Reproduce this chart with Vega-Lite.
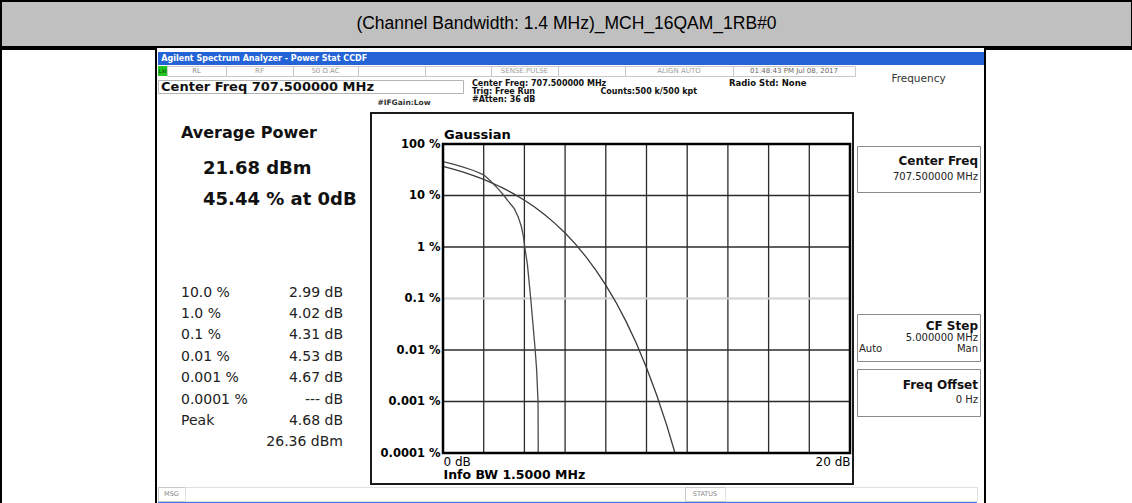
{
"$schema": "https://vega.github.io/schema/vega-lite/v6.json",
"padding": 0,
"background": "white",
"spacing": 0,
"config": {
  "view": {"stroke": null},
  "concat": {"spacing": 0},
  "axis": {"grid": false, "domain": false, "ticks": false, "labelFont": "DejaVu Sans", "titleFont": "DejaVu Sans"},
  "text": {"font": "DejaVu Sans"},
  "title": {"font": "DejaVu Sans"}
},
"datasets": {
  "ccdf": [
    {"series": "Gaussian", "db": 0, "pct": 36.79},
    {"series": "Gaussian", "db": 0.5, "pct": 32.56},
    {"series": "Gaussian", "db": 1, "pct": 28.4},
    {"series": "Gaussian", "db": 1.5, "pct": 24.35},
    {"series": "Gaussian", "db": 2, "pct": 20.49},
    {"series": "Gaussian", "db": 2.5, "pct": 16.89},
    {"series": "Gaussian", "db": 3, "pct": 13.6},
    {"series": "Gaussian", "db": 3.5, "pct": 10.66},
    {"series": "Gaussian", "db": 4, "pct": 8.114},
    {"series": "Gaussian", "db": 4.5, "pct": 5.971},
    {"series": "Gaussian", "db": 5, "pct": 4.232},
    {"series": "Gaussian", "db": 5.5, "pct": 2.877},
    {"series": "Gaussian", "db": 6, "pct": 1.867},
    {"series": "Gaussian", "db": 6.5, "pct": 1.148},
    {"series": "Gaussian", "db": 7, "pct": 0.6652},
    {"series": "Gaussian", "db": 7.5, "pct": 0.3608},
    {"series": "Gaussian", "db": 8, "pct": 0.1819},
    {"series": "Gaussian", "db": 8.5, "pct": 0.0843},
    {"series": "Gaussian", "db": 9, "pct": 0.0355},
    {"series": "Gaussian", "db": 9.5, "pct": 0.01347},
    {"series": "Gaussian", "db": 10, "pct": 0.00454},
    {"series": "Gaussian", "db": 10.5, "pct": 0.001337},
    {"series": "Gaussian", "db": 11, "pct": 0.00034},
    {"series": "Gaussian", "db": 11.4, "pct": 0.0001},
    {"series": "Measured", "db": 0, "pct": 45.44},
    {"series": "Measured", "db": 0.5, "pct": 40.6},
    {"series": "Measured", "db": 1, "pct": 35.6},
    {"series": "Measured", "db": 1.5, "pct": 30.6},
    {"series": "Measured", "db": 2, "pct": 25.2},
    {"series": "Measured", "db": 2.3, "pct": 19.8},
    {"series": "Measured", "db": 2.6, "pct": 15.0},
    {"series": "Measured", "db": 2.8, "pct": 12.3},
    {"series": "Measured", "db": 2.99, "pct": 10.0},
    {"series": "Measured", "db": 3.2, "pct": 7.8},
    {"series": "Measured", "db": 3.5, "pct": 5.6},
    {"series": "Measured", "db": 3.7, "pct": 3.8},
    {"series": "Measured", "db": 3.85, "pct": 2.5},
    {"series": "Measured", "db": 3.95, "pct": 1.6},
    {"series": "Measured", "db": 4.02, "pct": 1.0},
    {"series": "Measured", "db": 4.15, "pct": 0.45},
    {"series": "Measured", "db": 4.31, "pct": 0.1},
    {"series": "Measured", "db": 4.42, "pct": 0.032},
    {"series": "Measured", "db": 4.53, "pct": 0.01},
    {"series": "Measured", "db": 4.6, "pct": 0.0042},
    {"series": "Measured", "db": 4.67, "pct": 0.001},
    {"series": "Measured", "db": 4.68, "pct": 0.0001},
    {"series": "Measured", "db": 20, "pct": 0.0001}
  ],
  "gridX": [{"db": 2}, {"db": 4}, {"db": 6}, {"db": 8}, {"db": 10}, {"db": 12}, {"db": 14}, {"db": 16}, {"db": 18}],
  "gridY": [{"pct": 10}, {"pct": 1}, {"pct": 0.01}, {"pct": 0.001}],
  "gridYLight": [{"pct": 0.1}],
  "stats": [
    {"level": "10.0 %", "power": "2.99 dB"},
    {"level": "1.0 %", "power": "4.02 dB"},
    {"level": "0.1 %", "power": "4.31 dB"},
    {"level": "0.01 %", "power": "4.53 dB"},
    {"level": "0.001 %", "power": "4.67 dB"},
    {"level": "0.0001 %", "power": "--- dB"},
    {"level": "Peak", "power": "4.68 dB"},
    {"level": "", "power": "26.36 dBm"}
  ]
},
"vconcat": [
  {
    "width": 1131, "height": 46,
    "view": {"fill": "#c0c0c0", "stroke": "#000000", "strokeWidth": 2},
    "data": {"values": [{"caption": "(Channel Bandwidth: 1.4 MHz)_MCH_16QAM_1RB#0"}]},
    "mark": {"type": "text", "font": "Liberation Sans Narrow, Liberation Sans, sans-serif", "fontSize": 17.5, "color": "#000000"},
    "encoding": {"text": {"field": "caption"}}
  },
  {
    "spacing": 0,
    "hconcat": [
      {"width": 155, "height": 455, "view": {"stroke": "#000000", "strokeWidth": 2}, "data": {"values": []}, "mark": "text"},
      {
        "spacing": 0,
        "vconcat": [
          {"width": 826, "height": 3, "data": {"values": []}, "mark": "text"},
          {
            "width": 826, "height": 13, "view": {"fill": "#2463d6"},
            "data": {"values": [{"t": "Agilent Spectrum Analyzer - Power Stat CCDF"}]},
            "mark": {"type": "text", "align": "left", "color": "white", "fontWeight": "bold", "fontSize": 8},
            "encoding": {"text": {"field": "t"}, "x": {"datum": "s", "type": "nominal", "scale": {"type": "point", "padding": 0, "align": 0.004}, "axis": null}}
          },
          {
            "spacing": 0,
            "hconcat": [
              {
                "spacing": 0,
                "vconcat": [
                  {
                    "spacing": 0, "bounds": "flush",
                    "hconcat": [
                      {"width": 9, "height": 10, "view": {"fill": "#22c422"}, "data": {"values": [{"t": "LXI"}]}, "mark": {"type": "text", "fontSize": 5, "color": "#003300"}, "encoding": {"text": {"field": "t"}}},
                      {"width": 59, "height": 10, "view": {"stroke": "#c8c8c8"}, "data": {"values": [{"t": "RL"}]}, "mark": {"type": "text", "fontSize": 7, "color": "#8a8a8a"}, "encoding": {"text": {"field": "t"}}},
                      {"width": 67, "height": 10, "view": {"stroke": "#c8c8c8"}, "data": {"values": [{"t": "RF"}]}, "mark": {"type": "text", "fontSize": 7, "color": "#9a9a9a"}, "encoding": {"text": {"field": "t"}}},
                      {"width": 65, "height": 10, "view": {"stroke": "#c8c8c8"}, "data": {"values": [{"t": "50 Ω      AC"}]}, "mark": {"type": "text", "fontSize": 7, "color": "#9a9a9a"}, "encoding": {"text": {"field": "t"}}},
                      {"width": 67, "height": 10, "view": {"stroke": "#c8c8c8"}, "data": {"values": []}, "mark": "text"},
                      {"width": 66, "height": 10, "view": {"stroke": "#c8c8c8"}, "data": {"values": []}, "mark": "text"},
                      {"width": 67, "height": 10, "view": {"stroke": "#c8c8c8"}, "data": {"values": [{"t": "SENSE:PULSE"}]}, "mark": {"type": "text", "fontSize": 7, "color": "#a0a0a0"}, "encoding": {"text": {"field": "t"}}},
                      {"width": 67, "height": 10, "view": {"stroke": "#c8c8c8"}, "data": {"values": []}, "mark": "text"},
                      {"width": 108, "height": 10, "view": {"stroke": "#c8c8c8"}, "data": {"values": [{"t": "ALIGN AUTO"}]}, "mark": {"type": "text", "fontSize": 7, "color": "#a0a0a0"}, "encoding": {"text": {"field": "t"}}},
                      {"width": 122, "height": 10, "view": {"stroke": "#c8c8c8"}, "data": {"values": [{"t": "01:48:43 PM Jul 08, 2017"}]}, "mark": {"type": "text", "fontSize": 7, "color": "#666666"}, "encoding": {"text": {"field": "t"}}}
                    ]
                  },
                  {
                    "spacing": 0,
                    "hconcat": [
                      {
                        "spacing": 0,
                        "vconcat": [
                          {"width": 305, "height": 2, "data": {"values": []}, "mark": "text"},
                          {
                            "width": 305, "height": 13, "view": {"stroke": "#b5b5b5"},
                            "data": {"values": [{"t": "Center Freq 707.500000 MHz"}]},
                            "mark": {"type": "text", "align": "left", "fontSize": 13, "fontWeight": "bold", "color": "#111111"},
                            "encoding": {"text": {"field": "t"}, "x": {"datum": "s", "type": "nominal", "scale": {"type": "point", "padding": 0, "align": 0.01}, "axis": null}}
                          },
                          {
                            "spacing": 0, "bounds": "flush",
                            "hconcat": [
                              {"width": 213, "height": 18, "data": {"values": []}, "mark": "text"},
                              {"width": 66, "height": 18, "data": {"values": [{"t": "#IFGain:Low"}]}, "mark": {"type": "text", "fontSize": 7.5, "fontWeight": "bold", "color": "#333333"}, "encoding": {"text": {"field": "t"}}},
                              {"width": 26, "height": 18, "data": {"values": []}, "mark": "text"}
                            ]
                          }
                        ]
                      },
                      {"width": 8, "height": 33, "data": {"values": []}, "mark": "text"},
                      {
                        "spacing": 0, "bounds": "flush",
                        "vconcat": [
                          {"width": 257, "height": 3, "data": {"values": []}, "mark": "text"},
                          {
                            "width": 257, "height": 24,
                            "data": {"values": [
                              {"line": "1", "col": "a", "t": "Center Freq: 707.500000 MHz"},
                              {"line": "2", "col": "a", "t": "Trig: Free Run"},
                              {"line": "2", "col": "b", "t": "Counts:500 k/500 kpt"},
                              {"line": "3", "col": "a", "t": "#Atten: 36 dB"}
                            ]},
                            "mark": {"type": "text", "align": "left", "fontSize": 8, "fontWeight": "bold", "color": "#111111"},
                            "encoding": {
                              "text": {"field": "t"},
                              "x": {"field": "col", "type": "nominal", "scale": {"type": "point", "domain": ["a", "b", "c"], "padding": 0}, "axis": null},
                              "y": {"field": "line", "type": "nominal", "scale": {"type": "point", "domain": ["1", "2", "3"]}, "axis": null}
                            }
                          },
                          {"width": 257, "height": 6, "data": {"values": []}, "mark": "text"}
                        ]
                      },
                      {
                        "spacing": 0, "bounds": "flush",
                        "vconcat": [
                          {"width": 127, "height": 1, "data": {"values": []}, "mark": "text"},
                          {
                            "width": 127, "height": 10,
                            "data": {"values": [{"t": "Radio Std: None"}]},
                            "mark": {"type": "text", "align": "left", "fontSize": 8.5, "fontWeight": "bold", "color": "#111111"},
                            "encoding": {"text": {"field": "t"}, "x": {"datum": "s", "type": "nominal", "scale": {"type": "point", "padding": 0, "align": 0}, "axis": null}}
                          },
                          {"width": 127, "height": 22, "data": {"values": []}, "mark": "text"}
                        ]
                      }
                    ]
                  },
                  {
                    "spacing": 0,
                    "hconcat": [
                      {"width": 3, "height": 371, "data": {"values": []}, "mark": "text"},
                      {
                        "spacing": 0,
                        "vconcat": [
                          {
                            "spacing": 0, "bounds": "flush",
                            "hconcat": [
                              {"width": 20, "height": 40, "data": {"values": []}, "mark": "text"},
                              {
                                "width": 187, "height": 40,
                                "data": {"values": [{"t": "Average Power"}]},
                                "mark": {"type": "text", "align": "left", "fontSize": 16, "fontWeight": "bold", "color": "#111111"},
                                "encoding": {"text": {"field": "t"}, "x": {"datum": "s", "type": "nominal", "scale": {"type": "point", "padding": 0, "align": 0}, "axis": null}}
                              }
                            ]
                          },
                          {
                            "spacing": 0, "bounds": "flush",
                            "hconcat": [
                              {"width": 42, "height": 62, "data": {"values": []}, "mark": "text"},
                              {
                                "width": 165, "height": 62,
                                "data": {"values": [{"t": "21.68 dBm"}, {"t": "45.44 % at 0dB"}]},
                                "mark": {"type": "text", "align": "left", "fontSize": 18, "fontWeight": "bold", "color": "#111111"},
                                "encoding": {
                                  "text": {"field": "t"},
                                  "x": {"datum": "s", "type": "nominal", "scale": {"type": "point", "padding": 0, "align": 0}, "axis": null},
                                  "y": {"field": "t", "type": "nominal", "sort": null, "axis": null}
                                }
                              }
                            ]
                          },
                          {"width": 207, "height": 67, "data": {"values": []}, "mark": "text"},
                          {
                            "spacing": 0, "bounds": "flush",
                            "hconcat": [
                              {"width": 20, "height": 171, "data": {"values": []}, "mark": "text"},
                              {
                                "width": 80, "height": 171,
                                "data": {"name": "stats"},
                                "mark": {"type": "text", "align": "left", "fontSize": 14, "color": "#222222"},
                                "encoding": {
                                  "text": {"field": "level"},
                                  "x": {"datum": "s", "type": "nominal", "scale": {"type": "point", "padding": 0, "align": 0}, "axis": null},
                                  "y": {"field": "level", "type": "nominal", "sort": null, "axis": null}
                                }
                              },
                              {
                                "width": 82, "height": 171,
                                "data": {"name": "stats"},
                                "mark": {"type": "text", "align": "right", "fontSize": 14, "color": "#222222"},
                                "encoding": {
                                  "text": {"field": "power"},
                                  "x": {"datum": "e", "type": "nominal", "scale": {"type": "point", "padding": 0, "align": 1}, "axis": null},
                                  "y": {"field": "level", "type": "nominal", "sort": null, "axis": null}
                                }
                              },
                              {"width": 25, "height": 171, "data": {"values": []}, "mark": "text"}
                            ]
                          },
                          {"width": 207, "height": 31, "data": {"values": []}, "mark": "text"}
                        ]
                      },
                      {"width": 2, "height": 371, "data": {"values": []}, "mark": "text"},
                      {
                        "width": 482, "height": 371,
                        "view": {"stroke": "#1a1a1a", "strokeWidth": 2, "fill": "white"},
                        "title": {"text": "Gaussian", "anchor": "start", "frame": "group", "orient": "top", "offset": -42, "dx": 73, "baseline": "bottom", "fontSize": 13, "fontWeight": "bold", "color": "#000000"},
                        "layer": [
                          {
                            "data": {"name": "gridX"},
                            "mark": {"type": "rule", "color": "#2b2b2b", "strokeWidth": 1.3},
                            "encoding": {"x": {"field": "db", "type": "quantitative"}, "y": {"datum": 0.0001}, "y2": {"datum": 100}}
                          },
                          {
                            "data": {"name": "gridY"},
                            "mark": {"type": "rule", "color": "#2b2b2b", "strokeWidth": 1.3},
                            "encoding": {"y": {"field": "pct", "type": "quantitative"}, "x": {"datum": 0}, "x2": {"datum": 20}}
                          },
                          {
                            "data": {"name": "gridYLight"},
                            "mark": {"type": "rule", "color": "#d2d2d2", "strokeWidth": 2},
                            "encoding": {"y": {"field": "pct", "type": "quantitative"}, "x": {"datum": 0}, "x2": {"datum": 20}}
                          },
                          {
                            "data": {"name": "ccdf"},
                            "mark": {"type": "line", "strokeWidth": 1.3},
                            "encoding": {
                              "x": {
                                "field": "db", "type": "quantitative",
                                "scale": {"domain": [0, 20], "range": [72, 479], "nice": false, "zero": false},
                                "axis": {"orient": "bottom", "offset": -31, "values": [0, 20], "labelExpr": "datum.value + ' dB'", "labelFlush": true, "labelFontSize": 12, "labelColor": "#000000", "labelPadding": 3, "title": "Info BW 1.5000 MHz", "titleAnchor": "start", "titleFontSize": 12.5, "titleFontWeight": "bold", "titlePadding": 1, "titleColor": "#000000"}
                              },
                              "y": {
                                "field": "pct", "type": "quantitative",
                                "scale": {"type": "log", "domain": [0.0001, 100], "range": [340, 31], "nice": false},
                                "axis": {"orient": "left", "offset": -72, "values": [100, 10, 1, 0.1, 0.01, 0.001, 0.0001], "labelExpr": "format(datum.value, '~g') + ' %'", "labelFontWeight": "bold", "labelFontSize": 11.5, "labelPadding": 3, "labelOverlap": false, "labelColor": "#000000", "title": null}
                              },
                              "color": {"field": "series", "type": "nominal", "scale": {"domain": ["Gaussian", "Measured"], "range": ["#3a3a3a", "#4a4a4a"]}, "legend": null}
                            }
                          },
                          {
                            "data": {"values": [{"frame": "plot"}]},
                            "mark": {"type": "rect", "fill": "transparent", "stroke": "#000000", "strokeWidth": 2.5},
                            "encoding": {"x": {"datum": 0}, "x2": {"datum": 20}, "y": {"datum": 0.0001}, "y2": {"datum": 100}}
                          }
                        ]
                      },
                      {"width": 2, "height": 371, "data": {"values": []}, "mark": "text"}
                    ]
                  },
                  {"width": 696, "height": 1, "data": {"values": []}, "mark": "text"}
                ]
              },
              {
                "spacing": 0, "bounds": "flush",
                "vconcat": [
                  {"width": 123, "height": 3, "data": {"values": []}, "mark": "text"},
                  {"width": 123, "height": 20, "data": {"values": [{"t": "Frequency"}]}, "mark": {"type": "text", "fontSize": 10.5, "color": "#333333"}, "encoding": {"text": {"field": "t"}}},
                  {"width": 123, "height": 57, "data": {"values": []}, "mark": "text"},
                  {
                    "width": 123, "height": 46,
                    "view": {"stroke": "#8a8a8a", "fill": "white"},
                    "data": {"values": [{"line": "a", "side": "R", "t": "Center Freq"}, {"line": "b", "side": "R", "t": "707.500000 MHz"}]},
                    "encoding": {
                      "text": {"field": "t"},
                      "x": {"field": "side", "type": "nominal", "scale": {"type": "point", "domain": ["L", "R"], "padding": 0.017}, "axis": null},
                      "y": {"field": "line", "type": "nominal", "scale": {"type": "point", "domain": ["a", "b"], "padding": 1.05}, "axis": null}
                    },
                    "layer": [
                      {"transform": [{"filter": "datum.line == 'a'"}], "mark": {"type": "text", "align": "right", "fontSize": 12, "fontWeight": "bold", "color": "#111111"}},
                      {"transform": [{"filter": "datum.line == 'b'"}], "mark": {"type": "text", "align": "right", "fontSize": 10, "color": "#222222"}}
                    ]
                  },
                  {"width": 123, "height": 122, "data": {"values": []}, "mark": "text"},
                  {
                    "width": 123, "height": 47,
                    "view": {"stroke": "#8a8a8a", "fill": "white"},
                    "data": {"values": [{"line": "a", "side": "R", "t": "CF Step"}, {"line": "b", "side": "R", "t": "5.000000 MHz"}, {"line": "c", "side": "L", "t": "Auto"}, {"line": "c", "side": "R", "t": "Man"}]},
                    "encoding": {
                      "text": {"field": "t"},
                      "x": {"field": "side", "type": "nominal", "scale": {"type": "point", "domain": ["L", "R"], "padding": 0.017}, "axis": null},
                      "y": {"field": "line", "type": "nominal", "scale": {"type": "point", "domain": ["a", "b", "c"], "padding": 1.04}, "axis": null}
                    },
                    "layer": [
                      {"transform": [{"filter": "datum.line == 'a'"}], "mark": {"type": "text", "align": "right", "fontSize": 12, "fontWeight": "bold", "color": "#111111"}},
                      {"transform": [{"filter": "datum.line != 'a' && datum.side == 'R'"}], "mark": {"type": "text", "align": "right", "fontSize": 10, "color": "#222222"}},
                      {"transform": [{"filter": "datum.side == 'L'"}], "mark": {"type": "text", "align": "left", "fontSize": 10, "color": "#222222"}}
                    ]
                  },
                  {"width": 123, "height": 8, "data": {"values": []}, "mark": "text"},
                  {
                    "width": 123, "height": 47,
                    "view": {"stroke": "#8a8a8a", "fill": "white"},
                    "data": {"values": [{"line": "a", "side": "R", "t": "Freq Offset"}, {"line": "b", "side": "R", "t": "0 Hz"}]},
                    "encoding": {
                      "text": {"field": "t"},
                      "x": {"field": "side", "type": "nominal", "scale": {"type": "point", "domain": ["L", "R"], "padding": 0.017}, "axis": null},
                      "y": {"field": "line", "type": "nominal", "scale": {"type": "point", "domain": ["a", "b"], "padding": 1.13}, "axis": null}
                    },
                    "layer": [
                      {"transform": [{"filter": "datum.line == 'a'"}], "mark": {"type": "text", "align": "right", "fontSize": 12, "fontWeight": "bold", "color": "#111111"}},
                      {"transform": [{"filter": "datum.line == 'b'"}], "mark": {"type": "text", "align": "right", "fontSize": 10, "color": "#222222"}}
                    ]
                  },
                  {"width": 123, "height": 66, "data": {"values": []}, "mark": "text"}
                ]
              }
            ]
          },
          {
            "spacing": 0, "bounds": "flush",
            "hconcat": [
              {"width": 27, "height": 14, "view": {"stroke": "#c8c8c8"}, "data": {"values": [{"t": "MSG"}]}, "mark": {"type": "text", "fontSize": 6.5, "color": "#888888"}, "encoding": {"text": {"field": "t"}}},
              {"width": 500, "height": 14, "view": {"stroke": "#e0e0e0"}, "data": {"values": []}, "mark": "text"},
              {"width": 40, "height": 14, "view": {"stroke": "#c8c8c8"}, "data": {"values": [{"t": "STATUS"}]}, "mark": {"type": "text", "fontSize": 6.5, "color": "#888888"}, "encoding": {"text": {"field": "t"}}},
              {"width": 252, "height": 14, "view": {"stroke": "#e0e0e0"}, "data": {"values": []}, "mark": "text"}
            ]
          },
          {"width": 819, "height": 2, "view": {"fill": "#3b78e7"}, "data": {"values": []}, "mark": "text"}
        ]
      },
      {"width": 150, "height": 455, "view": {"stroke": "#000000", "strokeWidth": 2}, "data": {"values": []}, "mark": "text"}
    ]
  }
]
}
